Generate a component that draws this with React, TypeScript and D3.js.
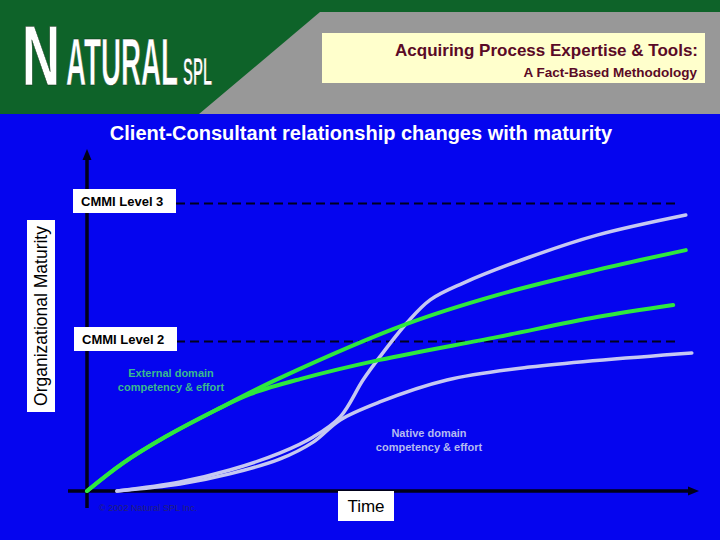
import React from "react";
import * as d3 from "d3";

// ---- data ----
const upperGreenTime = [0, 6, 13, 21.5, 32.2, 53.3, 68.3, 85, 99.8];
const upperGreenMaturity = [0, 9.3, 18, 27, 37.7, 55.7, 65.3, 73.7, 80.3];
const lowerGreenTime = [0, 6, 13, 21.5, 27.2, 35.5, 48.8, 68.3, 85, 97.7];
const lowerGreenMaturity = [0, 9.3, 18, 27, 32.3, 37.3, 43.7, 51.3, 58, 62];
const nativeSTime = [5, 15.5, 23.8, 32.2, 37.7, 42.2, 46, 48.8, 53.3, 57.2, 62.7, 73.8, 85, 99.8];
const nativeSMaturity = [0, 3, 7, 12.7, 18, 24.7, 37, 44.7, 56, 63.7, 69.3, 78, 85.3, 92];
const nativeLowTime = [5, 15.5, 23.8, 32.2, 37.7, 42.2, 48.8, 60, 73.8, 100.8];
const nativeLowMaturity = [0, 2.3, 5.7, 10.7, 16.3, 23.7, 29.7, 37, 41.3, 46];
const levelNames = ["CMMI Level 3", "CMMI Level 2"];
const levelValues = [96, 50];

const W = 720;
const H = 540;

export default function App() {
  const x = d3.scaleLinear().domain([0, 100]).range([87, 687]);
  const y = d3.scaleLinear().domain([0, 100]).range([491, 191]);
  const line = d3
    .line<[number, number]>()
    .x((d) => x(d[0]))
    .y((d) => y(d[1]))
    .curve(d3.curveCatmullRom.alpha(0.5));
  const zip = (a: number[], b: number[]) => a.map((v, i) => [v, b[i]] as [number, number]);

  const green = "#2ee83e";
  const lav = "#c6c8f2";
  const axisCol = "#00001a";
  const font = "'Liberation Sans', Arial, sans-serif";

  const x0 = x(0);
  const yAxisTop = 149;
  const xAxisY = y(0);
  const xAxisRight = 699;

  return (
    <svg
      width={W}
      height={H}
      style={{ position: "fixed", left: 0, top: 0, display: "block" }}
      fontFamily={font}
    >
      {/* backgrounds */}
      <rect x={0} y={0} width={W} height={H} fill="#0505ef" />
      <rect x={0} y={0} width={W} height={114} fill="#0e6329" />
      <polygon points="320,12 720,12 720,114 199,114" fill="#989898" />

      {/* logo */}
      <g fill="#ffffff" stroke="#0a2a10" strokeWidth={0.6} fontWeight="bold">
        <text x={22} y={85} fontSize={86} textLength={38} lengthAdjust="spacingAndGlyphs">
          N
        </text>
        <text x={66} y={85} fontSize={66} textLength={112} lengthAdjust="spacingAndGlyphs">
          ATURAL
        </text>
        <text x={183} y={85} fontSize={38} textLength={29} lengthAdjust="spacingAndGlyphs">
          SPL
        </text>
      </g>

      {/* title box */}
      <rect x={322} y={33} width={383} height={50} fill="#ffffcc" />
      <text x={698} y={56} textAnchor="end" fontSize={17} fontWeight="bold" fill="#5a0a26">
        Acquiring Process Expertise &amp; Tools:
      </text>
      <text x={697} y={77} textAnchor="end" fontSize={13.5} fontWeight="bold" fill="#5a0a26">
        A Fact-Based Methodology
      </text>

      <text x={361} y={140} textAnchor="middle" fontSize={20} fontWeight="bold" fill="#ffffff">
        Client-Consultant relationship changes with maturity
      </text>

      {/* level dashed lines */}
      {levelValues.map((v, i) => (
        <line
          key={levelNames[i]}
          x1={176}
          x2={677}
          y1={y(v) + 0.5}
          y2={y(v) + 0.5}
          stroke="#000020"
          strokeWidth={2}
          strokeDasharray="9,5"
        />
      ))}

      {/* axes */}
      <line x1={x0} x2={x0} y1={yAxisTop + 8} y2={508} stroke={axisCol} strokeWidth={3.5} />
      <polygon
        points={`${x0},${yAxisTop} ${x0 - 4.5},${yAxisTop + 11} ${x0 + 4.5},${yAxisTop + 11}`}
        fill={axisCol}
      />
      <line x1={68} x2={xAxisRight - 8} y1={xAxisY} y2={xAxisY} stroke={axisCol} strokeWidth={3.5} />
      <polygon
        points={`${xAxisRight},${xAxisY} ${xAxisRight - 11},${xAxisY - 4.5} ${xAxisRight - 11},${xAxisY + 4.5}`}
        fill={axisCol}
      />

      {/* level label boxes */}
      {levelValues.map((v, i) => (
        <g key={"b" + levelNames[i]}>
          <rect x={73 + i} y={y(v) - 14} width={103} height={24} fill="#ffffff" />
          <text x={81 + i} y={y(v) + 3} fontSize={13} fontWeight="bold" fill="#000000">
            {levelNames[i]}
          </text>
        </g>
      ))}

      {/* curves */}
      <path d={line(zip(nativeLowTime, nativeLowMaturity)) || ""} fill="none" stroke={lav} strokeWidth={3.5} strokeLinecap="round" />
      <path d={line(zip(nativeSTime, nativeSMaturity)) || ""} fill="none" stroke={lav} strokeWidth={3.5} strokeLinecap="round" />
      <path d={line(zip(lowerGreenTime, lowerGreenMaturity)) || ""} fill="none" stroke={green} strokeWidth={4} strokeLinecap="round" />
      <path d={line(zip(upperGreenTime, upperGreenMaturity)) || ""} fill="none" stroke={green} strokeWidth={4} strokeLinecap="round" />

      {/* curve labels */}
      <g fontSize={11} fontWeight="bold" fill="#3ab98e" textAnchor="middle">
        <text x={171} y={377}>External domain</text>
        <text x={171} y={391}>competency &amp; effort</text>
      </g>
      <g fontSize={11} fontWeight="bold" fill="#b4baf0" textAnchor="middle">
        <text x={429} y={437}>Native domain</text>
        <text x={429} y={451}>competency &amp; effort</text>
      </g>

      {/* y axis label */}
      <rect x={27} y={220} width={28} height={192} fill="#ffffff" />
      <text
        transform="translate(47,316) rotate(-90)"
        textAnchor="middle"
        fontSize={17.5}
        fill="#000000"
      >
        Organizational Maturity
      </text>

      {/* x axis label */}
      <rect x={338} y={491} width={56} height={30} fill="#ffffff" />
      <text x={366} y={512} textAnchor="middle" fontSize={17} fill="#000000">
        Time
      </text>

      <text x={99} y={511} fontSize={9} fill="#22227a" textLength={98} lengthAdjust="spacingAndGlyphs">
        © 2002 Natural SPL Inc.
      </text>
    </svg>
  );
}
